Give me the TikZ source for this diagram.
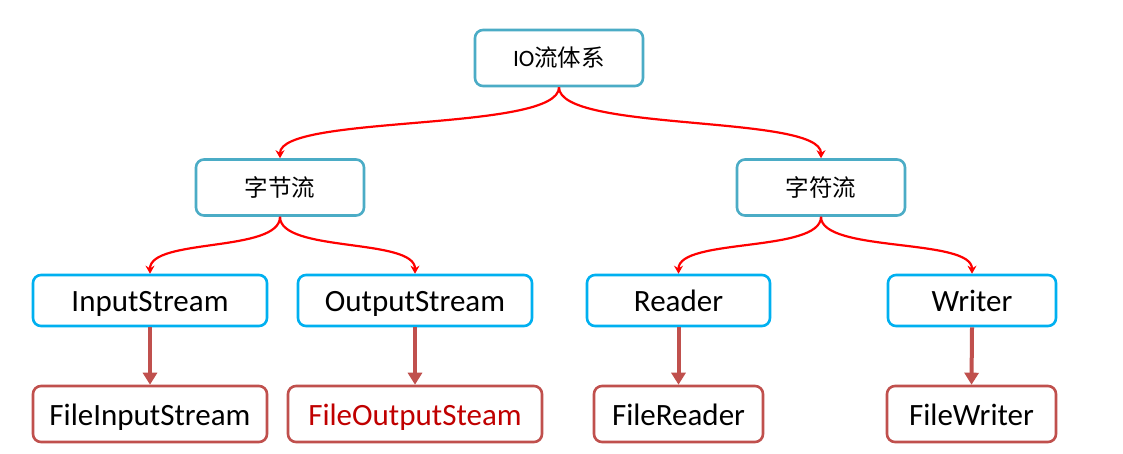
\documentclass[tikz,border=0pt]{standalone}
\usepackage{fontspec}
\setmainfont{Carlito}
\newfontfamily\cjk{Noto Sans CJK SC}
\usetikzlibrary{arrows.meta,calc}
\definecolor{tealb}{HTML}{4BACC6}
\definecolor{cyanb}{HTML}{00B0F0}
\definecolor{brownr}{HTML}{C0504D}
\definecolor{darkred}{HTML}{C00000}
\begin{document}
\begin{tikzpicture}[x=1pt,y=1pt,
  box/.style={draw, rounded corners=8pt, line width=2.6pt, inner sep=0pt, align=center},
  topbox/.style={box, draw=tealb, minimum width=168pt, minimum height=56pt, text height=19pt, text depth=2pt, font=\fontsize{23.5}{28}\selectfont},
  midbox/.style={box, draw=cyanb, minimum height=51pt, text height=24pt, text depth=2pt, font=\fontsize{31}{36}\selectfont},
  botbox/.style={box, draw=brownr, minimum height=56pt, text height=24pt, text depth=2pt, font=\fontsize{31}{36}\selectfont},
  redarr/.style={draw=red, line width=2.2pt, -{Stealth[length=8pt,width=9pt]}},
  brarr/.style={draw=brownr, line width=4pt, -{Triangle[length=12pt,width=14pt]}}]
\useasboundingbox (0,0) rectangle (1123,-453);
\fill[white] (0,0) rectangle (1123,-453);
% level 0/1
\node[topbox] (io) at (559,-58) {IO{\cjk 流体系}};
\node[topbox] (zj) at (280,-187.5) {\cjk 字节流};
\node[topbox] (zf) at (821,-187.5) {\cjk 字符流};
% level 2
\node[midbox, minimum width=234pt] (is) at (150,-300.5) {InputStream};
\node[midbox, minimum width=234pt] (os) at (415,-300.5) {OutputStream};
\node[midbox, minimum width=183pt] (rd) at (678.5,-300.5) {Reader};
\node[midbox, minimum width=168pt] (wr) at (972,-300.5) {Writer};
% level 3
\node[botbox, minimum width=234pt] (fis) at (150,-414) {FileInputStream};
\node[botbox, minimum width=254pt, text=darkred] (fos) at (415,-414) {FileOutputSteam};
\node[botbox, minimum width=169pt] (fr) at (678.5,-414) {FileReader};
\node[botbox, minimum width=169pt] (fw) at (971.5,-414) {FileWriter};
% red curves
\draw[redarr] (io.south) .. controls ($(io.south)+(0,-45)$) and ($(zj.north)+(0,44)$) .. (zj.north);
\draw[redarr] (io.south) .. controls ($(io.south)+(0,-45)$) and ($(zf.north)+(0,44)$) .. (zf.north);
\draw[redarr] (zj.south) .. controls ($(zj.south)+(0,-36)$) and ($(is.north)+(0,36)$) .. (is.north);
\draw[redarr] (zj.south) .. controls ($(zj.south)+(0,-36)$) and ($(os.north)+(0,36)$) .. (os.north);
\draw[redarr] (zf.south) .. controls ($(zf.south)+(0,-36)$) and ($(rd.north)+(0,36)$) .. (rd.north);
\draw[redarr] (zf.south) .. controls ($(zf.south)+(0,-36)$) and ($(wr.north)+(0,36)$) .. (wr.north);
% straight arrows
\draw[brarr] (is.south) -- (fis.north);
\draw[brarr] (os.south) -- (fos.north);
\draw[brarr] (rd.south) -- (fr.north);
\draw[brarr] (wr.south) -- (fw.north);
\end{tikzpicture}
\end{document}
